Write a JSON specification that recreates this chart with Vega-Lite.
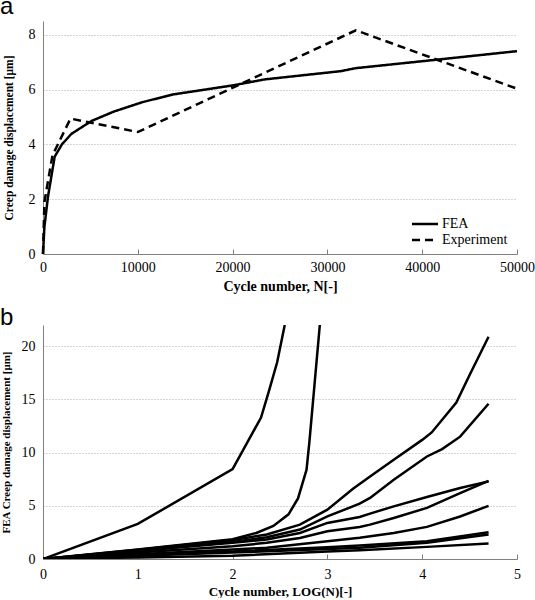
{
  "$schema": "https://vega.github.io/schema/vega-lite/v6.json",
  "padding": {"left": 0, "top": -5, "right": 0, "bottom": 0},
  "bounds": "flush",
  "spacing": 71,
  "config": {
    "view": {"stroke": null},
    "font": "Times New Roman, Liberation Serif, serif",
    "axis": {
      "labelFont": "Times New Roman, Liberation Serif, serif",
      "labelFontSize": 14,
      "labelColor": "#000000",
      "titleFont": "Times New Roman, Liberation Serif, serif",
      "titleFontWeight": "bold",
      "titleColor": "#000000",
      "domainColor": "#808080",
      "tickColor": "#808080",
      "gridColor": "#aaaaaa",
      "gridDash": [1, 2]
    },
    "legend": {"labelFont": "Times New Roman, Liberation Serif, serif"},
    "title": {"font": "Liberation Sans", "fontSize": 24, "fontWeight": "normal", "anchor": "start", "frame": "group", "baseline": "alphabetic", "offset": 0, "color": "#000000"}
  },
  "vconcat": [
    {
      "width": 474,
      "height": 233,
      "title": {"text": "a", "dx": -43, "dy": 2},
      "data": {"values": [
        {"series": "FEA", "N": 0, "D": 0},
        {"series": "FEA", "N": 150, "D": 1.0},
        {"series": "FEA", "N": 530, "D": 2.1},
        {"series": "FEA", "N": 1230, "D": 3.55},
        {"series": "FEA", "N": 2000, "D": 4.0},
        {"series": "FEA", "N": 2990, "D": 4.38},
        {"series": "FEA", "N": 5100, "D": 4.85},
        {"series": "FEA", "N": 7500, "D": 5.2},
        {"series": "FEA", "N": 10500, "D": 5.54},
        {"series": "FEA", "N": 13700, "D": 5.82},
        {"series": "FEA", "N": 20000, "D": 6.15},
        {"series": "FEA", "N": 23400, "D": 6.37},
        {"series": "FEA", "N": 31400, "D": 6.67},
        {"series": "FEA", "N": 33000, "D": 6.78},
        {"series": "FEA", "N": 41300, "D": 7.08},
        {"series": "FEA", "N": 50000, "D": 7.4},
        {"series": "Experiment", "N": 0, "D": 0},
        {"series": "Experiment", "N": 150, "D": 1.9},
        {"series": "Experiment", "N": 1000, "D": 3.6},
        {"series": "Experiment", "N": 2900, "D": 4.94},
        {"series": "Experiment", "N": 10000, "D": 4.45},
        {"series": "Experiment", "N": 33000, "D": 8.16},
        {"series": "Experiment", "N": 50000, "D": 6.03}
      ]},
      "mark": {"type": "line", "strokeWidth": 2.5, "color": "#000000"},
      "encoding": {
        "x": {"field": "N", "type": "quantitative", "scale": {"domain": [0, 50000], "nice": false},
          "axis": {"title": "Cycle number, N[-]", "titleFontSize": 14, "titlePadding": 5, "values": [0, 10000, 20000, 30000, 40000, 50000], "format": "d", "grid": false, "tickSize": -5, "labelPadding": 11, "labelFlush": false, "labelFont": "Times New Roman, Liberation Serif, serif"}},
        "y": {"field": "D", "type": "quantitative", "scale": {"domain": [0, 8.5], "nice": false},
          "axis": {"title": "Creep damage displacement [μm]", "titleFontSize": 11.5, "values": [0, 2, 4, 6, 8], "ticks": false, "labelPadding": 8, "grid": true, "titlePadding": 14, "labelFont": "Times New Roman, Liberation Serif, serif"}},
        "strokeDash": {"field": "series", "type": "nominal",
          "scale": {"domain": ["FEA", "Experiment"], "range": [[1, 0], [8, 5]]},
          "legend": {"title": null, "orient": "none", "legendX": 374, "legendY": 195, "symbolType": "M-2,0H2", "symbolSize": 169, "symbolStrokeWidth": 2.5, "symbolStrokeColor": "#000000", "labelFont": "Times New Roman, Liberation Serif, serif", "labelFontSize": 14, "labelColor": "#000000", "labelOffset": 9, "rowPadding": 1, "padding": 0}}
      }
    },
    {
      "width": 474,
      "height": 234,
      "title": {"text": "b", "dx": -43, "dy": 9},
      "data": {"values": [
        {"c": 1, "x": 0, "y": 0}, {"c": 1, "x": 1, "y": 3.3}, {"c": 1, "x": 2, "y": 8.45}, {"c": 1, "x": 2.3, "y": 13.3}, {"c": 1, "x": 2.39, "y": 16.0}, {"c": 1, "x": 2.47, "y": 18.5}, {"c": 1, "x": 2.55, "y": 22},
        {"c": 2, "x": 0, "y": 0}, {"c": 2, "x": 1, "y": 0.9}, {"c": 2, "x": 2, "y": 1.85}, {"c": 2, "x": 2.25, "y": 2.45}, {"c": 2, "x": 2.43, "y": 3.1}, {"c": 2, "x": 2.59, "y": 4.2}, {"c": 2, "x": 2.69, "y": 5.7}, {"c": 2, "x": 2.78, "y": 8.4}, {"c": 2, "x": 2.81, "y": 11}, {"c": 2, "x": 2.86, "y": 16}, {"c": 2, "x": 2.92, "y": 22},
        {"c": 3, "x": 0, "y": 0}, {"c": 3, "x": 1, "y": 0.88}, {"c": 3, "x": 2, "y": 1.78}, {"c": 3, "x": 2.36, "y": 2.3}, {"c": 3, "x": 2.71, "y": 3.23}, {"c": 3, "x": 3, "y": 4.64}, {"c": 3, "x": 3.27, "y": 6.6}, {"c": 3, "x": 3.45, "y": 7.76}, {"c": 3, "x": 3.7, "y": 9.33}, {"c": 3, "x": 4, "y": 11.2}, {"c": 3, "x": 4.1, "y": 11.9}, {"c": 3, "x": 4.36, "y": 14.7}, {"c": 3, "x": 4.5, "y": 17.3}, {"c": 3, "x": 4.7, "y": 20.9},
        {"c": 4, "x": 0, "y": 0}, {"c": 4, "x": 1, "y": 0.8}, {"c": 4, "x": 2, "y": 1.6}, {"c": 4, "x": 2.36, "y": 2.05}, {"c": 4, "x": 2.71, "y": 2.77}, {"c": 4, "x": 3, "y": 4.0}, {"c": 4, "x": 3.34, "y": 5.2}, {"c": 4, "x": 3.45, "y": 5.74}, {"c": 4, "x": 3.7, "y": 7.45}, {"c": 4, "x": 4.05, "y": 9.64}, {"c": 4, "x": 4.21, "y": 10.33}, {"c": 4, "x": 4.4, "y": 11.5}, {"c": 4, "x": 4.7, "y": 14.6},
        {"c": 5, "x": 0, "y": 0}, {"c": 5, "x": 1, "y": 0.75}, {"c": 5, "x": 2, "y": 1.52}, {"c": 5, "x": 2.36, "y": 1.83}, {"c": 5, "x": 2.71, "y": 2.45}, {"c": 5, "x": 3, "y": 3.39}, {"c": 5, "x": 3.34, "y": 3.95}, {"c": 5, "x": 3.45, "y": 4.27}, {"c": 5, "x": 3.7, "y": 4.95}, {"c": 5, "x": 4.05, "y": 5.83}, {"c": 5, "x": 4.4, "y": 6.67}, {"c": 5, "x": 4.7, "y": 7.3},
        {"c": 6, "x": 0, "y": 0}, {"c": 6, "x": 1, "y": 0.6}, {"c": 6, "x": 2, "y": 1.2}, {"c": 6, "x": 2.36, "y": 1.52}, {"c": 6, "x": 2.71, "y": 1.98}, {"c": 6, "x": 3, "y": 2.6}, {"c": 6, "x": 3.34, "y": 3.0}, {"c": 6, "x": 3.45, "y": 3.23}, {"c": 6, "x": 3.7, "y": 3.86}, {"c": 6, "x": 4.05, "y": 4.8}, {"c": 6, "x": 4.4, "y": 6.2}, {"c": 6, "x": 4.7, "y": 7.35},
        {"c": 7, "x": 0, "y": 0}, {"c": 7, "x": 1, "y": 0.45}, {"c": 7, "x": 2, "y": 0.9}, {"c": 7, "x": 2.36, "y": 1.05}, {"c": 7, "x": 3, "y": 1.67}, {"c": 7, "x": 3.34, "y": 1.99}, {"c": 7, "x": 3.7, "y": 2.45}, {"c": 7, "x": 4.05, "y": 3.02}, {"c": 7, "x": 4.4, "y": 4.0}, {"c": 7, "x": 4.7, "y": 5.0},
        {"c": 8, "x": 0, "y": 0}, {"c": 8, "x": 1, "y": 0.35}, {"c": 8, "x": 2, "y": 0.7}, {"c": 8, "x": 3, "y": 1.1}, {"c": 8, "x": 3.34, "y": 1.27}, {"c": 8, "x": 4.05, "y": 1.67}, {"c": 8, "x": 4.7, "y": 2.52},
        {"c": 9, "x": 0, "y": 0}, {"c": 9, "x": 1, "y": 0.3}, {"c": 9, "x": 2, "y": 0.6}, {"c": 9, "x": 3, "y": 0.95}, {"c": 9, "x": 3.34, "y": 1.05}, {"c": 9, "x": 4.05, "y": 1.52}, {"c": 9, "x": 4.7, "y": 2.3},
        {"c": 10, "x": 0, "y": 0}, {"c": 10, "x": 1, "y": 0.15}, {"c": 10, "x": 2, "y": 0.3}, {"c": 10, "x": 3, "y": 0.7}, {"c": 10, "x": 3.34, "y": 0.83}, {"c": 10, "x": 4.05, "y": 1.14}, {"c": 10, "x": 4.7, "y": 1.45}
      ]},
      "mark": {"type": "line", "strokeWidth": 2.5, "color": "#000000", "clip": true},
      "encoding": {
        "x": {"field": "x", "type": "quantitative", "scale": {"domain": [0, 5], "nice": false},
          "axis": {"title": "Cycle number, LOG(N)[-]", "titleFontSize": 13, "titlePadding": 4, "values": [0, 1, 2, 3, 4, 5], "grid": false, "tickSize": -5, "labelPadding": 13, "labelFlush": false, "labelFont": "Times New Roman, Liberation Serif, serif"}},
        "y": {"field": "y", "type": "quantitative", "scale": {"domain": [0, 22], "nice": false},
          "axis": {"title": "FEA Creep damage displacement [μm]", "titleFontSize": 11, "values": [0, 5, 10, 15, 20], "ticks": false, "labelPadding": 8, "grid": true, "titlePadding": 10, "labelFont": "Times New Roman, Liberation Serif, serif"}},
        "detail": {"field": "c", "type": "nominal"}
      }
    }
  ]
}
